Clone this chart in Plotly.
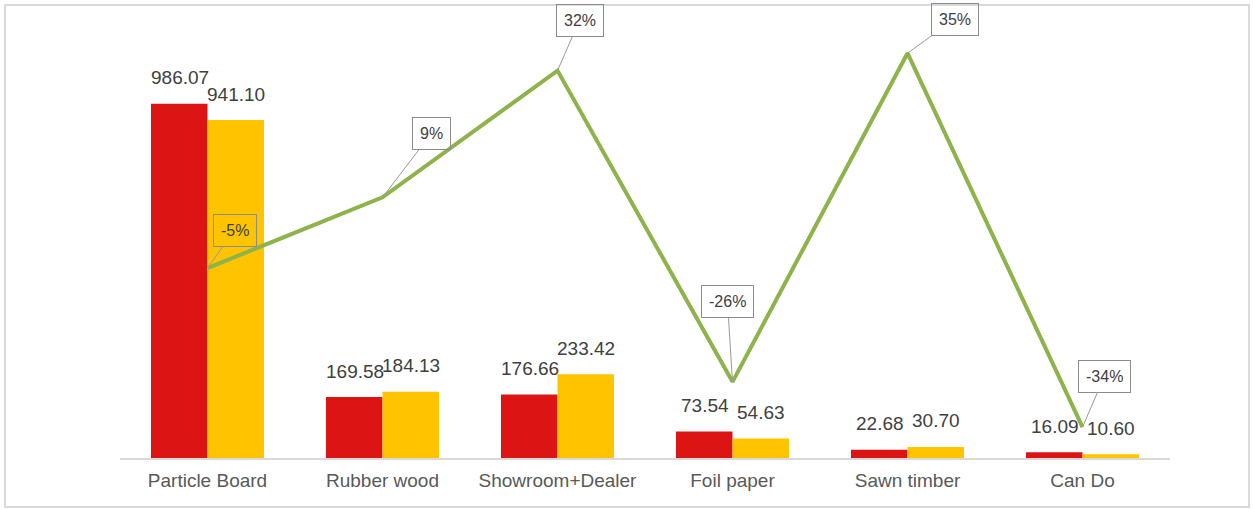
import plotly.graph_objects as go

categories = ["Particle Board", "Rubber wood", "Showroom+Dealer", "Foil paper", "Sawn timber", "Can Do"]
series_prev = [986.07, 169.58, 176.66, 73.54, 22.68, 16.09]
series_curr = [941.10, 184.13, 233.42, 54.63, 30.70, 10.60]
growth = [-0.0456, 0.0858, 0.3213, -0.2571, 0.3536, -0.3412]
growth_labels = ["-5%", "9%", "32%", "-26%", "35%", "-34%"]

# label box offsets (pixels) relative to line points
box_dx = [27, 49, 22, -5, 47, 22]
box_dy = [-38, -64, -50, -80, -34, -51]

RED = "#dc1414"
YELLOW = "#ffc300"
GREEN = "#8db34a"
TXT = "#404040"

fig = go.Figure()
fig.add_trace(go.Bar(x=categories, y=series_prev, marker=dict(color=RED, line=dict(width=0)),
                     name="prev", yaxis="y"))
fig.add_trace(go.Bar(x=categories, y=series_curr, marker=dict(color=YELLOW, line=dict(width=0)),
                     name="curr", yaxis="y"))
fig.add_trace(go.Scatter(x=categories, y=growth, mode="lines", line=dict(color=GREEN, width=4),
                         name="growth", yaxis="y2"))

annotations = []
for c, v in zip(categories, series_prev):
    annotations.append(dict(x=c, y=v, xref="x", yref="y", text=f"{v:.2f}", showarrow=False,
                            xshift=-28, yshift=26, font=dict(size=19, color=TXT, family="Arial")))
for c, v in zip(categories, series_curr):
    annotations.append(dict(x=c, y=v, xref="x", yref="y", text=f"{v:.2f}", showarrow=False,
                            xshift=28, yshift=26, font=dict(size=19, color=TXT, family="Arial")))
for c, v, t, dx, dy in zip(categories, growth, growth_labels, box_dx, box_dy):
    annotations.append(dict(x=c, y=v, xref="x", yref="y2", text=t, showarrow=True,
                            arrowhead=0, arrowwidth=1, arrowcolor="#9a9a9a", ax=dx, ay=dy,
                            standoff=0, bordercolor="#8c8c8c", borderwidth=1, borderpad=7,
                            bgcolor="rgba(0,0,0,0)",
                            font=dict(size=16, color=TXT, family="Arial")))

fig.update_layout(
    width=1253, height=509,
    margin=dict(l=120, r=83, t=8, b=51),
    paper_bgcolor="white", plot_bgcolor="white",
    barmode="group", bargap=0.354, bargroupgap=0,
    showlegend=False,
    font=dict(family="Arial", color="#595959"),
    xaxis=dict(showgrid=False, zeroline=False, showline=True, linecolor="#d9d9d9", linewidth=2,
               tickfont=dict(size=19, color="#595959", family="Arial"), ticks="",
               ticklabelstandoff=4),
    yaxis=dict(range=[0, 1253], showgrid=False, zeroline=False, showticklabels=False, showline=False),
    yaxis2=dict(range=[-0.3986, 0.4376], overlaying="y", side="right", showgrid=False,
                zeroline=False, showticklabels=False, showline=False),
    annotations=annotations,
    shapes=[dict(type="rect", xref="paper", yref="paper", x0=-0.1095, x1=1.0752,
                 y0=-0.1089, y1=1.0067, line=dict(color="#d9d9d9", width=2),
                 fillcolor="rgba(0,0,0,0)", layer="below")],
)

fig.write_html("out.html", config={"displayModeBar": False},
               post_script="document.body.style.margin='0';document.body.style.overflow='hidden';")
